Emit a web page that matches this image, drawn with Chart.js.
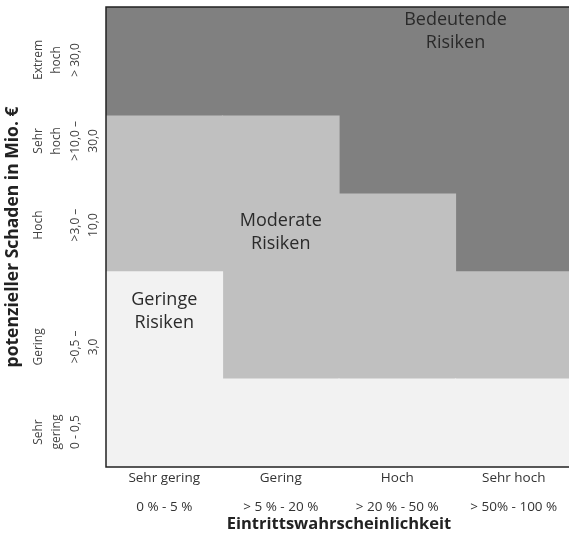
<!DOCTYPE html>
<html>
<head>
<meta charset="utf-8">
<script src="https://cdn.jsdelivr.net/npm/chart.js@4.4.1/dist/chart.umd.min.js"></script>
<style>
  html, body { margin: 0; padding: 0; background: #fff; overflow: hidden; }
  #wrap { width: 572px; height: 535px; }
</style>
</head>
<body>
<div id="wrap"><canvas id="riskChart"></canvas></div>
<script>
// Eintrittswahrscheinlichkeit (x categories)
const probLabels = ["Sehr gering", "Gering", "Hoch", "Sehr hoch"];
const probRanges = ["0 % - 5 %", "> 5 % - 20 %", "> 20 % - 50 %", "> 50% - 100 %"];

// Schadensklassen (y ticks), positions on a 0-100 scale
const damageTicks = [7.6, 26.1, 52.6, 70.9, 88.5];
const damageLabels = [
  ["Sehr", "gering", "0 - 0,5", ""],
  ["Gering", "", ">0,5 –", "3,0"],
  ["Hoch", "", ">3,0 –", "10,0"],
  ["Sehr", "hoch", ">10,0 –", "30,0"],
  ["Extrem", "hoch", "> 30,0", ""]
];

// Stacked zones per column (heights on the 0-100 scale)
const geringeRisiken = [42.4, 19.1, 19.1, 19.1];
const moderateRisiken = [33.9, 57.2, 40.2, 23.3];
const bedeutendeRisiken = [23.7, 23.7, 40.7, 57.6];

const FONT = "'Open Sans', sans-serif";

// frame + zone captions
const riskPlugin = {
  id: "riskPlugin",
  afterDatasetsDraw(chart) {
    const { ctx, chartArea: a, scales: { x, y } } = chart;
    ctx.save();
    ctx.font = "18px " + FONT;
    ctx.fillStyle = "#2a2a2a";
    ctx.textAlign = "center";
    ctx.textBaseline = "middle";
    const captions = [
      { lines: ["Bedeutende", "Risiken"], x: 2.5, y: 94.8 },
      { lines: ["Moderate", "Risiken"], x: 1, y: 50.9 },
      { lines: ["Geringe", "Risiken"], x: 0, y: 33.9 }
    ];
    captions.forEach(c => {
      const px = x.getPixelForValue(c.x);
      const py = y.getPixelForValue(c.y);
      ctx.fillText(c.lines[0], px, py - 11.5);
      ctx.fillText(c.lines[1], px, py + 11.5);
    });
    ctx.strokeStyle = "#222";
    ctx.lineWidth = 1.5;
    ctx.strokeRect(a.left, a.top, a.right - a.left, a.bottom - a.top);
    ctx.restore();
  }
};

new Chart(document.getElementById("riskChart"), {
  type: "bar",
  data: {
    labels: probLabels.map((l, i) => [l, "", probRanges[i]]),
    datasets: [
      { label: "Geringe Risiken", data: geringeRisiken, backgroundColor: "#f2f2f2" },
      { label: "Moderate Risiken", data: moderateRisiken, backgroundColor: "#c0c0c0" },
      { label: "Bedeutende Risiken", data: bedeutendeRisiken, backgroundColor: "#808080" }
    ]
  },
  options: {
    responsive: true,
    maintainAspectRatio: false,
    animation: false,
    layout: { padding: { top: 7, right: 0, bottom: 0, left: 0 } },
    datasets: { bar: { barPercentage: 1, categoryPercentage: 1, borderWidth: 0, inflateAmount: 0.6 } },
    plugins: { legend: { display: false }, tooltip: { enabled: false } },
    scales: {
      x: {
        stacked: true,
        grid: { display: false, drawTicks: false },
        border: { display: false },
        afterFit: scale => { scale.height = 68; },
        ticks: { color: "#333", font: { family: FONT, size: 13.5, lineHeight: "14.5px" }, padding: 4, maxRotation: 0, autoSkip: false },
        title: {
          display: true, text: "Eintrittswahrscheinlichkeit", color: "#222",
          font: { family: FONT, size: 16.5, weight: "bold" }, padding: { top: 0, bottom: 1 }
        }
      },
      y: {
        stacked: true,
        min: 0,
        max: 100,
        grid: { display: false, drawTicks: false },
        border: { display: false },
        afterBuildTicks: scale => { scale.ticks = damageTicks.map(v => ({ value: v })); },
        afterFit: scale => {
          scale.width = 106;
          scale.paddingTop = 0;
          scale.paddingBottom = 0;
        },
        ticks: {
          color: "#444",
          font: { family: FONT, size: 12, lineHeight: 1.55 },
          minRotation: 90,
          maxRotation: 90,
          crossAlign: "center",
          padding: 20,
          callback: v => damageLabels[damageTicks.indexOf(v)] || ""
        },
        title: {
          display: true, text: "potenzieller Schaden in Mio. €", color: "#222",
          font: { family: FONT, size: 17.5, weight: "bold" }, padding: { top: 3, bottom: 0 }
        }
      }
    }
  },
  plugins: [riskPlugin]
});
</script>
</body>
</html>
